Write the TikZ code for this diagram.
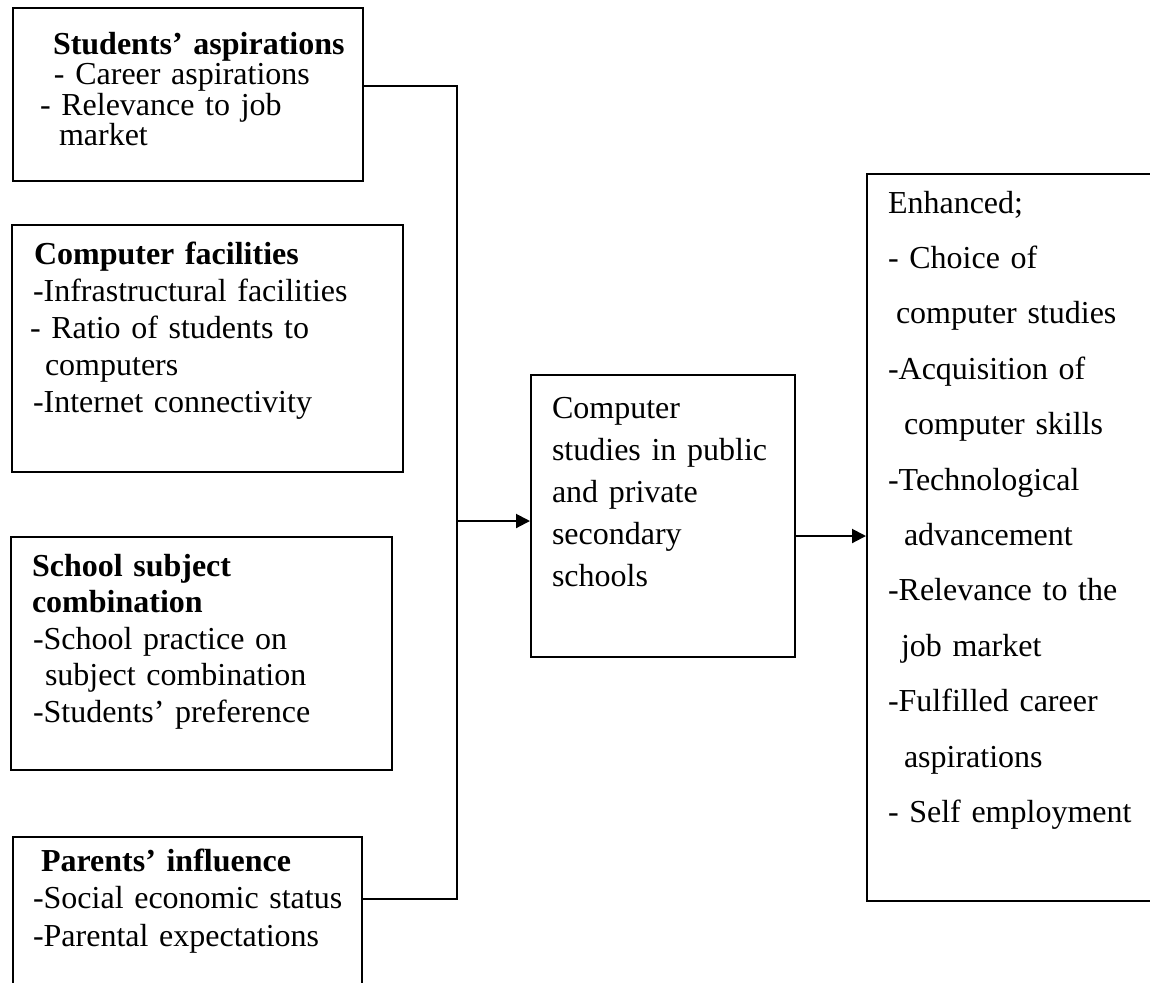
\documentclass[tikz,border=0pt]{standalone}
\usepackage{fontspec}
\setmainfont{Liberation Serif}
\usetikzlibrary{arrows.meta}

\begin{document}
\begin{tikzpicture}[x=0.5pt,y=-0.5pt,line width=1pt,>={Triangle[length=7pt,width=7pt]},
   box/.style={draw,anchor=north west,align=left,inner sep=0pt}]
   \clip (0,0) rectangle (1150,982);
   % factors on the left
   \node[box,text width=175pt,text height=23pt,text depth=63.5pt,font=\fontsize{16}{15.25}\selectfont] (asp) at (12,7)
     {\hspace*{20pt}\textbf{Students' aspirations}\\
      \hspace*{20.5pt}- Career aspirations\\
      \hspace*{13.5pt}- Relevance to job\\
      \hspace*{23pt}market};
   \node[box,text width=195.5pt,text height=19.5pt,text depth=104pt,font=\fontsize{16}{18.5}\selectfont] (fac) at (11,224)
     {\hspace*{11pt}\textbf{Computer facilities}\\
      \hspace*{10.5pt}-Infrastructural facilities\\
      \hspace*{9pt}- Ratio of students to\\
      \hspace*{16.5pt}computers\\
      \hspace*{10.5pt}-Internet connectivity};
   \node[box,text width=190.5pt,text height=19.5pt,text depth=97pt,font=\fontsize{16}{18.25}\selectfont] (comb) at (10,536)
     {\hspace*{10.5pt}\textbf{School subject}\\
      \hspace*{10.5pt}\textbf{combination}\\
      \hspace*{11pt}-School practice on\\
      \hspace*{17pt}subject combination\\
      \hspace*{11pt}-Students' preference};
   \node[box,text width=174.5pt,text height=17pt,text depth=65pt,font=\fontsize{16}{18.75}\selectfont] (par) at (12,836)
     {\hspace*{14pt}\textbf{Parents' influence}\\
      \hspace*{10pt}-Social economic status\\
      \hspace*{10pt}-Parental expectations};
   % middle and outcome
   \node[box,text width=132pt,text height=21.5pt,text depth=119.5pt,font=\fontsize{16}{21}\selectfont] (core) at (530,374)
     {\hspace*{10.5pt}Computer\\
      \hspace*{10.5pt}studies in public\\
      \hspace*{10.5pt}and private\\
      \hspace*{10.5pt}secondary\\
      \hspace*{10.5pt}schools};
   \node[box,text width=167pt,text height=19.5pt,text depth=344pt,font=\fontsize{16}{27.7}\selectfont] (out) at (866,173)
     {\hspace*{10.5pt}Enhanced;\\
      \hspace*{10.5pt}- Choice of\\
      \hspace*{14.5pt}computer studies\\
      \hspace*{10.5pt}-Acquisition of\\
      \hspace*{18.5pt}computer skills\\
      \hspace*{10.5pt}-Technological\\
      \hspace*{18.5pt}advancement\\
      \hspace*{10.5pt}-Relevance to the\\
      \hspace*{17pt}job market\\
      \hspace*{10.5pt}-Fulfilled career\\
      \hspace*{18.5pt}aspirations\\
      \hspace*{10.5pt}- Self employment};
   % connectors
   \coordinate (bustop) at (457,86);
   \coordinate (busbot) at (457,899);
   \coordinate (busin) at (457,521);
   \coordinate (outy) at (0,536);
   \draw (asp.east |- bustop) -- (bustop) -- (busbot) -- (par.east |- busbot);
   \draw[->] (busin) -- (core.west |- busin);
   \draw[->] (core.east |- outy) -- (out.west |- outy);
\end{tikzpicture}
\end{document}
